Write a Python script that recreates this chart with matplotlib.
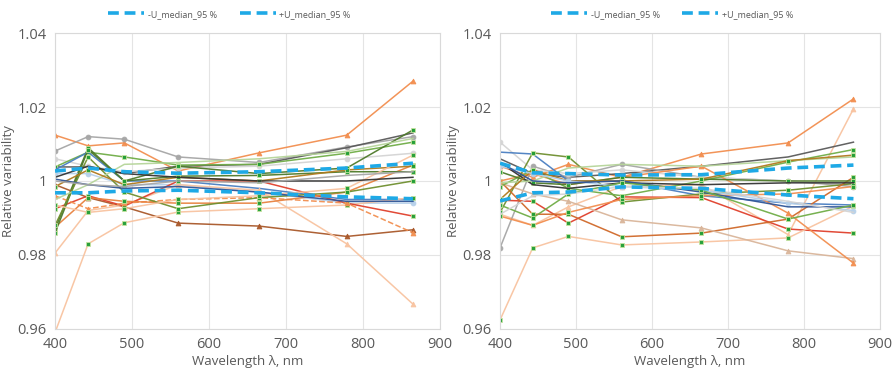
import matplotlib
matplotlib.use("Agg")
import matplotlib.pyplot as plt
from matplotlib.ticker import FuncFormatter, MultipleLocator

# band centres, nm
wavelength = [400, 443, 490, 560, 665, 779, 865]

# ---- left panel ----
left_u_plus = [1.0027, 1.0035, 1.0025, 1.0021, 1.0025, 1.0035, 1.0048]
left_u_minus = [0.9968, 0.9968, 0.9973, 0.9975, 0.9968, 0.9957, 0.9952]
left_series = [
    [1.0124, 1.0095, 1.0103, 1.0027, 1.0076, 1.0124, 1.0270],
    [1.0081, 1.0120, 1.0113, 1.0065, 1.0050, 1.0092, 1.0120],
    [1.0038, 1.0038, 1.0020, 1.0040, 1.0045, 1.0090, 1.0130],
    [1.0060, 1.0040, 1.0025, 1.0035, 1.0040, 1.0060, 1.0075],
    [1.0038, 1.0078, 1.0065, 1.0043, 1.0045, 1.0075, 1.0105],
    [0.9870, 1.0090, 1.0000, 1.0040, 1.0020, 1.0035, 1.0138],
    [1.0030, 1.0078, 1.0000, 1.0000, 0.9980, 0.9950, 0.9950],
    [1.0020, 1.0020, 0.9990, 0.9990, 0.9970, 0.9940, 0.9940],
    [0.9990, 0.9955, 0.9930, 0.9886, 0.9878, 0.9850, 0.9868],
    [0.9590, 0.9830, 0.9887, 0.9916, 0.9925, 0.9935, 0.9955],
    [0.9805, 0.9920, 0.9935, 0.9990, 0.9975, 0.9830, 0.9667],
    [0.9925, 0.9960, 0.9932, 1.0000, 1.0000, 0.9940, 0.9905],
    [0.9960, 0.9925, 0.9940, 0.9950, 0.9955, 0.9940, 0.9860],
    [0.9875, 0.9955, 0.9945, 0.9940, 0.9940, 0.9970, 1.0043],
    [0.9860, 1.0085, 1.0000, 1.0013, 1.0015, 1.0025, 1.0025],
    [0.9880, 1.0065, 0.9970, 0.9925, 0.9955, 0.9970, 1.0000],
    [0.9950, 0.9990, 1.0045, 1.0050, 1.0060, 1.0080, 1.0115],
    [0.9985, 1.0030, 0.9990, 1.0010, 1.0000, 1.0030, 1.0040],
    [0.9935, 0.9915, 0.9925, 0.9950, 0.9960, 0.9980, 1.0070],
    [1.0010, 1.0040, 1.0020, 1.0010, 1.0000, 1.0000, 1.0010],
    [1.0005, 0.9990, 0.9980, 0.9985, 0.9970, 0.9945, 0.9945],
    [1.0000, 0.9990, 0.9985, 1.0000, 0.9995, 1.0015, 1.0025],
]

# ---- right panel ----
right_u_plus = [1.0048, 1.0022, 1.0020, 1.0016, 1.0017, 1.0035, 1.0043]
right_u_minus = [0.9946, 0.9968, 0.9970, 0.9984, 0.9980, 0.9962, 0.9952]
right_series = [
    [1.0040, 1.0010, 1.0045, 1.0010, 1.0073, 1.0103, 1.0222],
    [0.9910, 0.9880, 0.9930, 0.9985, 0.9990, 0.9855, 1.0195],
    [1.0060, 1.0020, 1.0010, 1.0020, 1.0040, 1.0065, 1.0105],
    [0.9819, 1.0040, 1.0010, 1.0045, 1.0010, 1.0000, 0.9985],
    [1.0105, 1.0030, 1.0020, 1.0030, 1.0010, 1.0000, 0.9990],
    [1.0078, 1.0073, 1.0000, 1.0000, 0.9960, 0.9940, 0.9935],
    [0.9915, 1.0076, 1.0065, 0.9943, 0.9965, 0.9975, 0.9993],
    [0.9948, 0.9945, 0.9886, 0.9957, 0.9955, 0.9870, 0.9859],
    [1.0000, 0.9910, 0.9910, 0.9849, 0.9859, 0.9897, 1.0010],
    [0.9624, 0.9819, 0.9850, 0.9827, 0.9835, 0.9846, 0.9932],
    [0.9995, 0.9965, 0.9945, 0.9895, 0.9873, 0.9811, 0.9790],
    [1.0000, 1.0020, 0.9990, 1.0010, 1.0040, 0.9913, 0.9778],
    [0.9905, 0.9880, 0.9915, 0.9950, 0.9960, 0.9965, 0.9985],
    [0.9985, 1.0030, 0.9980, 0.9960, 1.0000, 1.0051, 1.0085],
    [1.0025, 0.9995, 0.9990, 1.0010, 1.0005, 1.0000, 1.0000],
    [1.0050, 0.9990, 0.9980, 0.9995, 0.9990, 0.9995, 0.9995],
    [0.9995, 1.0000, 1.0035, 1.0045, 1.0040, 1.0055, 1.0065],
    [0.9950, 1.0030, 1.0000, 1.0000, 1.0005, 1.0055, 1.0070],
    [1.0040, 1.0020, 1.0000, 0.9985, 0.9975, 0.9940, 0.9920],
    [1.0050, 1.0000, 0.9995, 1.0000, 0.9970, 0.9930, 0.9930],
    [0.9935, 0.9900, 0.9965, 0.9995, 0.9975, 0.9897, 0.9935],
    [0.9910, 0.9960, 0.9965, 0.9985, 0.9980, 0.9945, 0.9915],
]

# colours
ORANGE = "#f28e4f"
LORANGE = "#f8c3a0"
GRAY = "#a6a6a6"
DGRAY = "#595959"
LGRAY = "#d4d4d4"
BLUE = "#4a7fc1"
LBLUE = "#b5d0ea"
GREEN = "#70ad47"
DGREEN = "#4e7a2a"
OLIVE = "#6f8f2f"
LGREEN = "#b6d59a"
BROWN = "#a9582a"
RUST = "#d0692a"
TAN = "#d9b59a"
RED = "#e0402c"
GOLD = "#b07a1e"
BLACK = "#333333"
NAVY = "#2f5597"
SQ = "#1f9e35"
MEDIAN = "#1ea9e6"
TXT = "#595959"

# line colour, marker, linestyle per series
left_styles = [
    (ORANGE, "^", "-"), (GRAY, "o", "-"), (DGRAY, "", "-"), (LGRAY, "o", "-"),
    (GREEN, "s", "-"), (DGREEN, "s", "-"), (BLUE, "", "-"), (LBLUE, "o", "-"),
    (BROWN, "^", "-"), (LORANGE, "s", "-"), (LORANGE, "^", "-"), (RED, "s", "-"),
    (ORANGE, "^", "--"), ("#e8823f", "s", "-"), (DGREEN, "s", "-"), (OLIVE, "s", "-"),
    (LGREEN, "", "-"), (GOLD, "s", "-"), (LORANGE, "s", "-"), (BLACK, "", "-"),
    (NAVY, "", "-"), (GRAY, "", "-"),
]
right_styles = [
    (ORANGE, "^", "-"), (LORANGE, "^", "-"), (DGRAY, "", "-"), (GRAY, "o", "-"),
    (LGRAY, "o", "-"), (BLUE, "", "-"), (OLIVE, "s", "-"), (RED, "s", "-"),
    (RUST, "s", "-"), (LORANGE, "s", "-"), (TAN, "^", "-"), (ORANGE, "^", "-"),
    (ORANGE, "s", "-"), (GREEN, "s", "-"), (DGREEN, "s", "-"), (BLACK, "", "-"),
    (LGREEN, "", "-"), (GOLD, "s", "-"), (LBLUE, "o", "-"), (NAVY, "", "-"),
    (GREEN, "s", "-"), (LGRAY, "", "-"),
]

plt.rcParams["font.family"] = ["Open Sans", "DejaVu Sans"]

fig = plt.figure(figsize=(8.95, 3.72), dpi=100)
ax_l = fig.add_axes([0.0615, 0.116, 0.430, 0.795])
ax_r = fig.add_axes([0.5587, 0.116, 0.4246, 0.795])


def draw(ax, series, styles, u_minus, u_plus):
    for vals, (c, m, ls) in zip(series, styles):
        if m == "s":
            mfc, mec, ms = SQ, "#c9e3a0", 3.5
        elif m == "":
            mfc, mec, ms = c, c, 0
        else:
            mfc, mec, ms = c, c, 3.5
        ax.plot(wavelength, vals, color=c, lw=1.1, ls=ls, marker=m if m else None,
                ms=ms, mfc=mfc, mec=mec, mew=0.6, alpha=0.95)
    ax.plot(wavelength, u_minus, color=MEDIAN, lw=2.6, ls=(0, (3, 1.6)),
            label="-U_median_95 %", zorder=5)
    ax.plot(wavelength, u_plus, color=MEDIAN, lw=2.6, ls=(0, (3, 1.6)),
            label="+U_median_95 %", zorder=5)

    ax.set_xlim(400, 900)
    ax.set_ylim(0.96, 1.04)
    ax.xaxis.set_major_locator(MultipleLocator(100))
    ax.yaxis.set_major_locator(MultipleLocator(0.02))
    ax.yaxis.set_major_formatter(FuncFormatter(lambda v, p: f"{round(v, 2):g}"))
    ax.grid(True, color="#e4e4e4", lw=0.8)
    ax.set_axisbelow(True)
    for s in ax.spines.values():
        s.set_color("#d9d9d9")
        s.set_linewidth(0.8)
    ax.tick_params(length=0, labelsize=10.5, colors=TXT, pad=6)
    ax.set_xlabel("Wavelength λ, nm", fontsize=9.5, color=TXT, labelpad=2)
    ax.set_ylabel("Relative variability", fontsize=9.5, color=TXT)
    ax.yaxis.set_label_coords(-0.105, 0.5)

    pos = ax.get_position()
    ax.legend(loc="center", bbox_to_anchor=((pos.x0 + pos.x1) / 2 - 0.02, 0.962),
              bbox_transform=fig.transFigure, ncol=2, frameon=False,
              fontsize=6.5, labelcolor=TXT, handlelength=4, columnspacing=2.5,
              handletextpad=0.4)


draw(ax_l, left_series, left_styles, left_u_minus, left_u_plus)
draw(ax_r, right_series, right_styles, right_u_minus, right_u_plus)

fig.savefig("out.png", dpi=100)
